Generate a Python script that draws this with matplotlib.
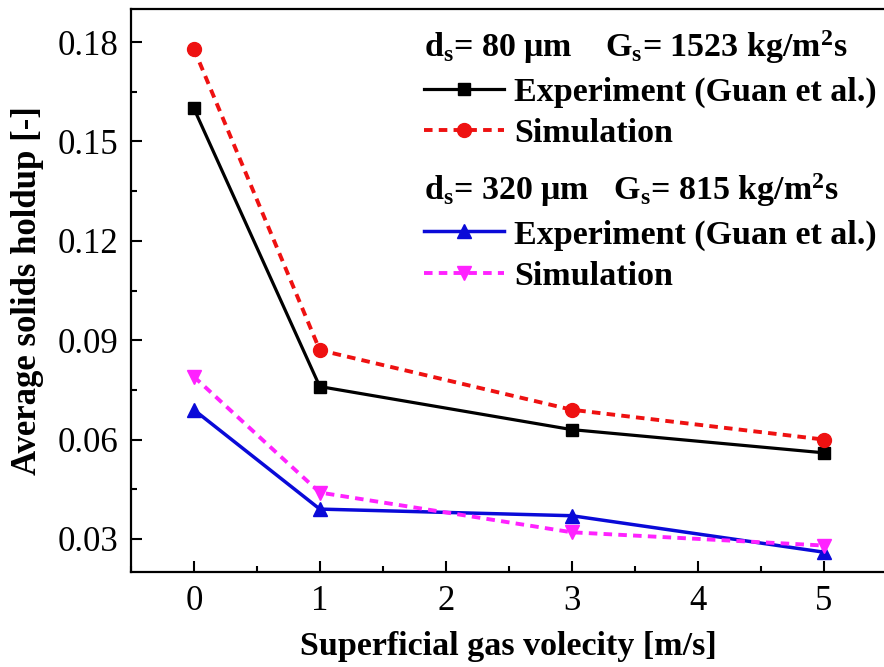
import matplotlib
matplotlib.use('Agg')
import matplotlib.pyplot as plt
from matplotlib.ticker import MultipleLocator

plt.rcParams['font.family'] = ['Liberation Serif', 'DejaVu Serif']
plt.rcParams['mathtext.fontset'] = 'custom'
plt.rcParams['mathtext.rm'] = 'Liberation Serif:bold'
plt.rcParams['mathtext.it'] = 'Liberation Serif:bold'
plt.rcParams['mathtext.bf'] = 'Liberation Serif:bold'
plt.rcParams['mathtext.default'] = 'rm'

# datos
velocidad = [0, 1, 3, 5]
exp_80 = [0.160, 0.076, 0.063, 0.056]
sim_80 = [0.178, 0.087, 0.069, 0.060]
exp_320 = [0.069, 0.039, 0.037, 0.026]
sim_320 = [0.079, 0.044, 0.032, 0.028]

titulo_80 = r'd$_s$= 80 μm    G$_s$= 1523 kg/m$^2$s'
titulo_320 = r'd$_s$= 320 μm   G$_s$= 815 kg/m$^2$s'
etiq_exp = 'Experiment (Guan et al.)'
etiq_sim = 'Simulation'

fig = plt.figure(figsize=(8.84, 6.67), dpi=100)
ax = fig.add_axes([0.148, 0.1424, 0.855, 0.8441])

l1, = ax.plot(velocidad, exp_80, color='black', lw=2.3, marker='s', ms=9)
l2, = ax.plot(velocidad, sim_80, color='#ee1111', lw=2.8, ls=(0, (2.2, 1.6)), marker='o', ms=10)
l3, = ax.plot(velocidad, exp_320, color='#0a0ad8', lw=2.5, marker='^', ms=10)
l4, = ax.plot(velocidad, sim_320, color='#ff22ff', lw=2.8, ls=(0, (2.2, 1.6)), marker='v', ms=10)

ax.set_xlim(-0.5, 5.5)
ax.set_ylim(0.02, 0.19)
ax.xaxis.set_major_locator(MultipleLocator(1))
ax.xaxis.set_minor_locator(MultipleLocator(0.5))
ax.yaxis.set_minor_locator(MultipleLocator(0.015))
ax.set_yticks([0.03, 0.06, 0.09, 0.12, 0.15, 0.18])
ax.set_yticklabels(['0.03', '0.06', '0.09', '0.12', '0.15', '0.18'])
ax.tick_params(which='major', direction='in', length=8, width=1.5, labelsize=25)
ax.tick_params(which='minor', direction='in', length=4, width=1.5)
ax.tick_params(axis='x', pad=9)
ax.tick_params(axis='y', pad=9)
for s in ax.spines.values():
    s.set_linewidth(1.6)

ax.set_xlabel('Superficial gas volecity [m/s]', fontsize=24.5, fontweight='bold', labelpad=10)
ax.set_ylabel('Average solids holdup [-]', fontsize=25, fontweight='bold', labelpad=10)

fuente = {'size': 24.5, 'weight': 'bold'}
leg1 = ax.legend([l1, l2], [etiq_exp, etiq_sim], title=titulo_80, loc='upper left',
                 bbox_to_anchor=(0.472, 0.967), bbox_transform=fig.transFigure,
                 frameon=False, prop=fuente, title_fontproperties=fuente,
                 alignment='left', handlelength=2.35, handletextpad=0.3,
                 labelspacing=0.3, borderaxespad=0, borderpad=0.2)
ax.add_artist(leg1)
leg2 = ax.legend([l3, l4], [etiq_exp, etiq_sim], title=titulo_320, loc='upper left',
                 bbox_to_anchor=(0.472, 0.753), bbox_transform=fig.transFigure,
                 frameon=False, prop=fuente, title_fontproperties=fuente,
                 alignment='left', handlelength=2.35, handletextpad=0.3,
                 labelspacing=0.3, borderaxespad=0, borderpad=0.2)

fig.savefig('out.png', dpi=100)
